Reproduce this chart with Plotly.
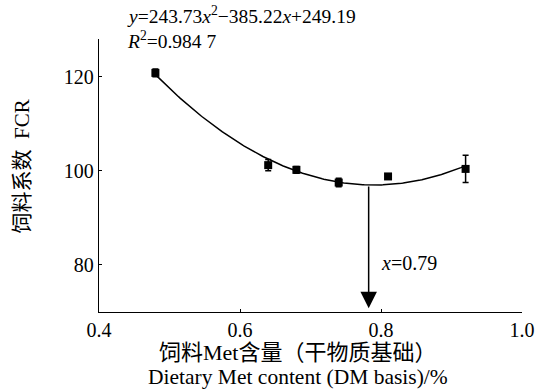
import numpy as np
import plotly.graph_objects as go

met = [0.48, 0.64, 0.68, 0.74, 0.81, 0.92]
fcr = [120.8, 101.2, 100.2, 97.5, 98.8, 100.4]
fcr_err = [0.8, 1.2, 0.7, 0.9, 0.5, 2.9]
fit_coeffs = [243.73, -385.22, 249.19]
opt_x = 0.7825
x_ticks = [0.4, 0.6, 0.8, 1.0]
x_tick_labels = ["0.4", "0.6", "0.8", "1.0"]
y_ticks = [80, 100, 120]

FONT = "'Liberation Serif', 'Times New Roman', serif"
CJK = "'Liberation Serif', 'Noto Sans CJK SC', serif"

xc = np.linspace(min(met), max(met), 200)
yc = np.polyval(fit_coeffs, xc)
y_min = float(np.polyval(fit_coeffs, opt_x))

fig = go.Figure()
fig.add_trace(go.Scatter(x=xc, y=yc, mode="lines",
                         line=dict(color="black", width=1.5),
                         showlegend=False, hoverinfo="skip"))
fig.add_trace(go.Scatter(x=met, y=fcr, mode="markers",
                         marker=dict(symbol="square", size=8, color="black"),
                         error_y=dict(type="data", array=fcr_err, color="black",
                                      thickness=1.5, width=3),
                         showlegend=False))

# arrow from curve minimum down to x-axis
fig.add_annotation(x=opt_x, y=70.8, ax=opt_x, ay=y_min, xref="x", yref="y",
                   axref="x", ayref="y", showarrow=True, arrowhead=2,
                   arrowsize=2.2, arrowwidth=1.5, arrowcolor="black", text="")
fig.add_annotation(x=0.797, y=80.5, xref="x", yref="y",
                   text="<i>x</i>=0.79", showarrow=False, xanchor="left",
                   yanchor="middle",
                   font=dict(family=FONT, size=20, color="black"))

fig.add_annotation(x=0.0615, y=1.087, xref="paper", yref="paper",
                   text="<i>y</i>=243.73<i>x</i><sup>2</sup>−385.22<i>x</i>+249.19",
                   showarrow=False, xanchor="left", yanchor="middle",
                   font=dict(family=FONT, size=19.5, color="black"))
fig.add_annotation(x=0.0615, y=0.996, xref="paper", yref="paper",
                   text="<i>R</i><sup>2</sup>=0.984 7",
                   showarrow=False, xanchor="left", yanchor="middle",
                   font=dict(family=FONT, size=19.5, color="black"))

fig.add_annotation(x=-0.181, y=0.535, xref="paper", yref="paper",
                   text="饲料系数  FCR", textangle=-90, showarrow=False,
                   xanchor="center", yanchor="middle",
                   font=dict(family=CJK, size=21, color="black"))
fig.add_annotation(x=0.469, y=-0.150, xref="paper", yref="paper",
                   text="饲料Met含量（干物质基础）", showarrow=False,
                   xanchor="center", yanchor="middle",
                   font=dict(family=CJK, size=22, color="black"))
fig.add_annotation(x=0.470, y=-0.238, xref="paper", yref="paper",
                   text="Dietary Met content (DM basis)/%", showarrow=False,
                   xanchor="center", yanchor="middle",
                   font=dict(family=FONT, size=21.5, color="black"))

fig.update_layout(
    width=544, height=390,
    margin=dict(l=99, r=22, t=39, b=78, autoexpand=False),
    paper_bgcolor="white", plot_bgcolor="white",
    font=dict(family=FONT, size=20, color="black"),
    xaxis=dict(range=[0.4, 1.0], tickvals=x_ticks, ticktext=x_tick_labels,
               showgrid=False, zeroline=False, showline=True,
               linecolor="black", linewidth=1.3, ticks="inside",
               ticklen=3, tickcolor="black", tickwidth=1.3,
               tickfont=dict(family=FONT, size=20)),
    yaxis=dict(range=[70, 128], tickvals=y_ticks,
               showgrid=False, zeroline=False, showline=True,
               linecolor="black", linewidth=1.3, ticks="inside",
               ticklen=3, tickcolor="black", tickwidth=1.3,
               tickfont=dict(family=FONT, size=20)),
)

fig.write_html("out.html", config={"displayModeBar": False},
               post_script="document.body.style.margin='0';")
